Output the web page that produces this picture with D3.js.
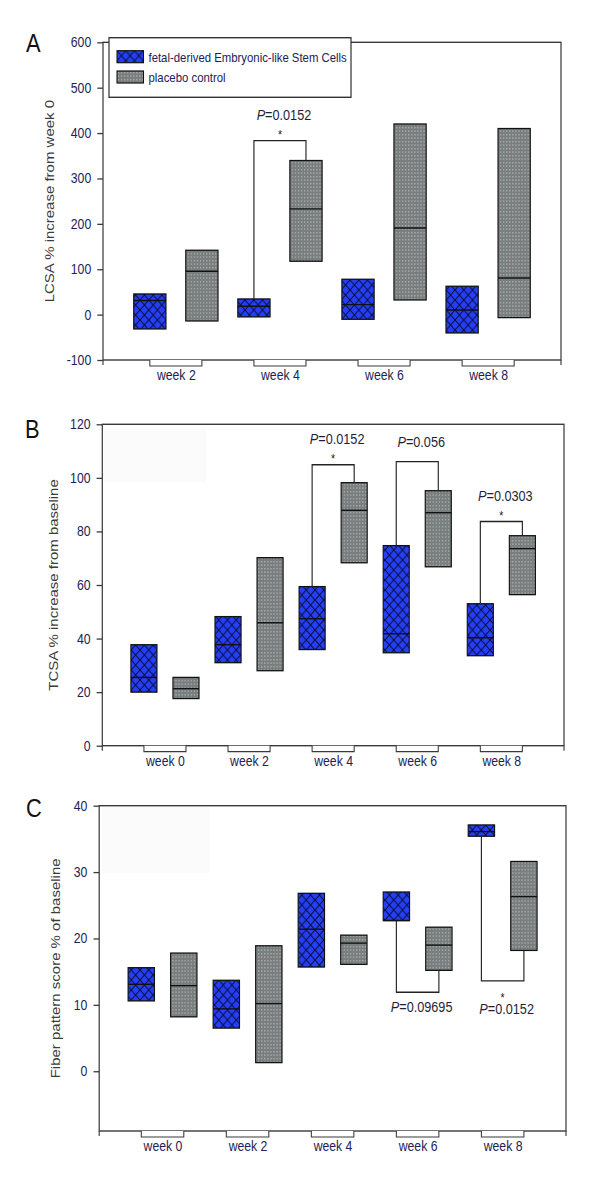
<!DOCTYPE html>
<html>
<head>
<meta charset="utf-8">
<script src="https://cdn.jsdelivr.net/npm/d3@7"></script>
<style>
  body { margin: 0; background: #fff; }
  text { font-family: "Liberation Sans", Arial, sans-serif; }
</style>
</head>
<body>
<svg id="chart" width="600" height="1202"></svg>
<script>
// A: LCSA % increase from week 0 (box = low / median / high)
const lcsaWeeks = ["week 2", "week 4", "week 6", "week 8"];
const lcsaStemLow = [-31.6, -5, -10.3, -40.4];
const lcsaStemMedian = [31, 18.4, 22, 10.3];
const lcsaStemHigh = [45.5, 34.5, 77.9, 62.5];
const lcsaPlaceboLow = [-14, 117.6, 32.3, -6.6];
const lcsaPlaceboMedian = [95.5, 233, 191, 80.8];
const lcsaPlaceboHigh = [141.8, 339.5, 420, 410];
const lcsaTicks = [-100, 0, 100, 200, 300, 400, 500, 600];
const lcsaTests = [{week: "week 4", p: "0.0152", star: true, level: 383.5}];

// B: TCSA % increase from baseline
const tcsaWeeks = ["week 0", "week 2", "week 4", "week 6", "week 8"];
const tcsaStemLow = [20.0, 31.0, 35.9, 34.7, 33.6];
const tcsaStemMedian = [25.5, 37.7, 47.4, 41.8, 40.3];
const tcsaStemHigh = [37.7, 48.2, 59.4, 74.7, 53.0];
const tcsaPlaceboLow = [17.6, 28.0, 68.3, 66.8, 56.4];
const tcsaPlaceboMedian = [21.3, 45.9, 87.9, 87.0, 73.6];
const tcsaPlaceboHigh = [25.5, 70.2, 98.2, 95.2, 78.4];
const tcsaTicks = [0, 20, 40, 60, 80, 100, 120];
const tcsaTests = [
  {week: "week 4", p: "0.0152", star: true, level: 104.9},
  {week: "week 6", p: "0.056", star: false, level: 106.1},
  {week: "week 8", p: "0.0303", star: true, level: 83.7}
];

// C: Fiber pattern score % of baseline
const fiberWeeks = ["week 0", "week 2", "week 4", "week 6", "week 8"];
const fiberStemLow = [10.6, 6.5, 15.7, 22.7, 35.4];
const fiberStemMedian = [13.1, 9.4, 21.4, 22.7, 36.1];
const fiberStemHigh = [15.6, 13.7, 26.8, 27.0, 37.1];
const fiberPlaceboLow = [8.2, 1.3, 16.1, 15.2, 18.2];
const fiberPlaceboMedian = [12.9, 10.2, 19.3, 19.0, 26.3];
const fiberPlaceboHigh = [17.8, 18.9, 20.5, 21.7, 31.6];
const fiberTicks = [0, 10, 20, 30, 40];
const fiberTests = [
  {week: "week 6", p: "0.09695", star: false, level: 11.9},
  {week: "week 8", p: "0.0152", star: true, level: 13.6}
];

const groupNames = ["fetal-derived Embryonic-like Stem Cells", "placebo control"];

const S = 0.875; // the published figure is squeezed sideways
const NAVY = "#1c2255";
const AXIS = "#3a3a3a";

const svg = d3.select("#chart");
const defs = svg.append("defs");

const hatch = defs.append("pattern")
  .attr("id", "hatch").attr("patternUnits", "userSpaceOnUse")
  .attr("width", 10).attr("height", 10);
hatch.append("rect").attr("width", 10).attr("height", 10).attr("fill", "#2440f6");
hatch.append("path")
  .attr("d", "M-1,-1L11,11M11,-1L-1,11")
  .attr("stroke", "#0c0c3c").attr("stroke-width", 1.1);

const dots = defs.append("pattern")
  .attr("id", "dots").attr("patternUnits", "userSpaceOnUse")
  .attr("width", 3.5).attr("height", 3.5);
dots.append("rect").attr("width", 3.5).attr("height", 3.5).attr("fill", "#787d7d");
dots.append("rect").attr("x", 1).attr("y", 1).attr("width", 1.3).attr("height", 1.3).attr("fill", "#b9bdbd");

const root = svg.append("g").attr("transform", `scale(${S},1)`);

function rows(weeks, low, med, high, group) {
  return weeks.map((w, i) => ({week: w, group, low: low[i], median: med[i], high: high[i]}));
}

function drawPanel(p) {
  const g = root.append("g");

  if (p.ghost) {
    g.append("rect")
      .attr("x", p.ghost[0] / S).attr("y", p.ghost[1])
      .attr("width", p.ghost[2] / S).attr("height", p.ghost[3])
      .attr("fill", "#fbfbfb");
  }

  const x = d3.scalePoint().domain(p.weeks).range([p.left / S, p.right / S]).padding(p.pad);
  const y = d3.scaleLinear().domain(p.domain).range([p.bottom, p.top]);
  const step = x.step();
  const off = {stem: -0.25 * step, placebo: 0.25 * step};
  const bw = 0.31 * step;

  // frame
  g.append("rect")
    .attr("x", p.left / S).attr("y", p.top)
    .attr("width", (p.right - p.left) / S).attr("height", p.bottom - p.top)
    .attr("fill", "none").attr("stroke", AXIS).attr("stroke-width", 1.4);

  // y axis
  const ya = g.append("g")
    .attr("transform", `translate(${p.left / S},0)`)
    .call(d3.axisLeft(y).tickValues(p.ticks).tickSize(6.5).tickPadding(7).tickFormat(d => String(d)));
  ya.select(".domain").remove();
  ya.selectAll(".tick line").attr("stroke", AXIS).attr("stroke-width", 1.3);
  ya.selectAll(".tick text").attr("fill", NAVY).attr("font-size", 14)
    .style("font-family", '"Liberation Sans", Arial, sans-serif');

  // x axis labels and brackets
  const xa = g.append("g")
    .attr("transform", `translate(0,${p.bottom})`)
    .call(d3.axisBottom(x).tickSize(0).tickPadding(10));
  xa.select(".domain").remove();
  xa.selectAll(".tick text").attr("fill", NAVY).attr("font-size", 14)
    .style("font-family", '"Liberation Sans", Arial, sans-serif');

  g.selectAll(".bracket").data(p.weeks).join("path")
    .attr("class", "bracket")
    .attr("d", w => `M${x(w) + off.stem},${p.bottom}V${p.bottom + 6}H${x(w) + off.placebo}V${p.bottom}`)
    .attr("fill", "#fff").attr("stroke", AXIS).attr("stroke-width", 1.2);

  g.selectAll(".endtick").data([p.left / S, p.right / S]).join("line")
    .attr("class", "endtick")
    .attr("x1", d => d).attr("x2", d => d)
    .attr("y1", p.bottom).attr("y2", p.bottom + 5)
    .attr("stroke", AXIS).attr("stroke-width", 1.3);

  // boxes
  const data = p.stem.concat(p.placebo);
  const boxes = g.selectAll(".box").data(data).join("g").attr("class", "box");
  boxes.append("rect")
    .attr("x", d => x(d.week) + off[d.group] - bw / 2)
    .attr("y", d => y(d.high))
    .attr("width", bw)
    .attr("height", d => y(d.low) - y(d.high))
    .attr("fill", d => d.group === "stem" ? "url(#hatch)" : "url(#dots)")
    .attr("stroke", "#111").attr("stroke-width", 1.3);
  boxes.append("line")
    .attr("x1", d => x(d.week) + off[d.group] - bw / 2)
    .attr("x2", d => x(d.week) + off[d.group] + bw / 2)
    .attr("y1", d => y(d.median)).attr("y2", d => y(d.median))
    .attr("stroke", "#111").attr("stroke-width", 1.4);

  // significance brackets
  const stemBy = new Map(p.stem.map(d => [d.week, d]));
  const plaBy = new Map(p.placebo.map(d => [d.week, d]));
  p.tests.forEach(t => {
    const xs = x(t.week) + off.stem, xp = x(t.week) + off.placebo;
    const ys = y(p.below ? stemBy.get(t.week).low : stemBy.get(t.week).high);
    const yp = y(p.below ? plaBy.get(t.week).low : plaBy.get(t.week).high);
    const yl = y(t.level);
    g.append("path")
      .attr("d", `M${xs},${ys}V${yl}H${xp}V${yp}`)
      .attr("fill", "none").attr("stroke", "#222").attr("stroke-width", 1.3);
    const mid = (xs + xp) / 2;
    if (t.star) {
      g.append("text").attr("x", mid).attr("y", p.below ? yl + 21 : yl - 2)
        .attr("text-anchor", "middle").attr("font-size", 12).attr("fill", "#222")
        .text("*");
    }
    let py;
    if (p.below) py = t.star ? yl + 33.5 : yl + 20;
    else py = t.star ? yl - 21 : yl - 15;
    const pt = g.append("text").attr("x", mid + 4 / S).attr("y", py)
      .attr("text-anchor", "middle").attr("font-size", 14.5).attr("fill", "#1e1e3a");
    pt.append("tspan").attr("font-style", "italic").text("P");
    pt.append("tspan").text("=" + t.p);
  });

  // y title
  g.append("text")
    .attr("transform", `translate(${p.titleX / S},${(p.top + p.bottom) / 2}) rotate(-90)`)
    .attr("text-anchor", "middle").attr("font-size", 15).attr("fill", "#3c3c3c")
    .text(p.title);

  // panel letter
  g.append("text").attr("x", p.letterX / S).attr("y", p.letterY)
    .attr("font-size", 25).attr("fill", "#111").text(p.letter);

  return {g, x, y};
}

const panelA = drawPanel({
  letter: "A", letterX: 26, letterY: 52,
  title: "LCSA % increase from week 0", titleX: 54,
  weeks: lcsaWeeks, ticks: lcsaTicks, domain: [-100, 600],
  left: 103, right: 561, top: 42.3, bottom: 360, pad: 0.70,
  stem: rows(lcsaWeeks, lcsaStemLow, lcsaStemMedian, lcsaStemHigh, "stem"),
  placebo: rows(lcsaWeeks, lcsaPlaceboLow, lcsaPlaceboMedian, lcsaPlaceboHigh, "placebo"),
  tests: lcsaTests, below: false
});

drawPanel({
  letter: "B", letterX: 25, letterY: 438,
  title: "TCSA % increase from baseline", titleX: 58,
  weeks: tcsaWeeks, ticks: tcsaTicks, domain: [0, 120],
  left: 102.3, right: 564, top: 424.3, bottom: 745.7, pad: 0.745,
  ghost: [104, 429, 102, 53],
  stem: rows(tcsaWeeks, tcsaStemLow, tcsaStemMedian, tcsaStemHigh, "stem"),
  placebo: rows(tcsaWeeks, tcsaPlaceboLow, tcsaPlaceboMedian, tcsaPlaceboHigh, "placebo"),
  tests: tcsaTests, below: false
});

drawPanel({
  letter: "C", letterX: 26, letterY: 817,
  title: "Fiber pattern score % of baseline", titleX: 60,
  weeks: fiberWeeks, ticks: fiberTicks, domain: [-9, 40],
  left: 99.2, right: 566, top: 805.7, bottom: 1131, pad: 0.745,
  ghost: [102, 807, 108, 66],
  stem: rows(fiberWeeks, fiberStemLow, fiberStemMedian, fiberStemHigh, "stem"),
  placebo: rows(fiberWeeks, fiberPlaceboLow, fiberPlaceboMedian, fiberPlaceboHigh, "placebo"),
  tests: fiberTests, below: true
});

// legend (panel A)
const lg = panelA.g.append("g");
lg.append("rect")
  .attr("x", 109 / S).attr("y", 37.7).attr("width", 242 / S).attr("height", 59.6)
  .attr("fill", "#fff").attr("stroke", "#333").attr("stroke-width", 1.4);
const items = lg.selectAll(".item").data(groupNames).join("g").attr("class", "item")
  .attr("transform", (d, i) => `translate(${117 / S},${50.7 + i * 20.3})`);
items.append("rect")
  .attr("width", 26.5 / S).attr("height", 12)
  .attr("fill", (d, i) => i === 0 ? "url(#hatch)" : "url(#dots)")
  .attr("stroke", "#111").attr("stroke-width", 1.2);
items.append("text")
  .attr("x", 31.5 / S).attr("y", 10.8)
  .attr("font-size", 13).attr("fill", NAVY)
  .text(d => d);
</script>
</body>
</html>
